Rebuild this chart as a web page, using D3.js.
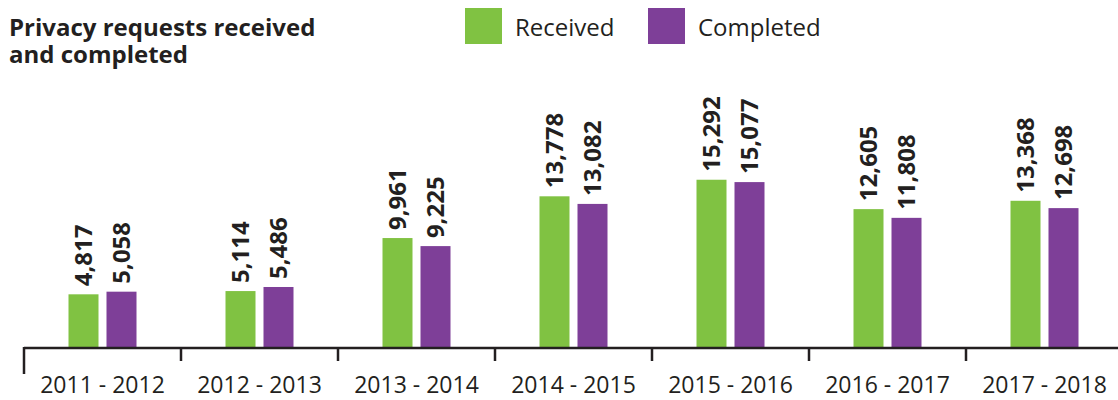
<!DOCTYPE html>
<html>

<head>
  <meta charset='utf-8'>
  <script type="text/javascript" src="https://cdn.jsdelivr.net/npm/d3@7"></script>
  <style type="text/css">
    body {
      margin: 0;
      background: #fff;
    }

    text {
      font-family: "Open Sans", sans-serif;
      fill: #231f20;
    }
  </style>
</head>

<body>
</body>

<script type="text/javascript">
  let w = 1118;
  let h = 400;

  // data
  let years = ["2011 - 2012", "2012 - 2013", "2013 - 2014", "2014 - 2015", "2015 - 2016", "2016 - 2017", "2017 - 2018"];
  let received = [4817, 5114, 9961, 13778, 15292, 12605, 13368];
  let completed = [5058, 5486, 9225, 13082, 15077, 11808, 12698];
  let seriesNames = ["Received", "Completed"];
  let colors = ["#80c242", "#7e3f98"];
  let titleLines = ["Privacy requests received", "and completed"];

  let svg = d3.select("body")
    .append("svg")
    .attr("width", w)
    .attr("height", h);

  // scales
  let x0 = d3.scaleBand()
    .domain(years)
    .range([24, 24 + 157 * years.length]);

  let x1 = d3.scaleBand()
    .domain(seriesNames)
    .range([44.5, 112.5])
    .paddingInner(0.2105);

  let y = d3.scaleLinear()
    .domain([0, 16000])
    .range([347, 172]);

  let color = d3.scaleOrdinal()
    .domain(seriesNames)
    .range(colors);

  // title
  svg.selectAll(".title")
    .data(titleLines)
    .enter()
    .append("text")
    .attr("class", "title")
    .attr("x", 9)
    .attr("y", (d, i) => 36 + i * 27)
    .style("font-weight", "bold")
    .style("font-size", "24px")
    .text(d => d);

  // legend
  let legendX = [465, 648];
  let legend = svg.selectAll(".legend")
    .data(seriesNames)
    .enter()
    .append("g")
    .attr("class", "legend")
    .attr("transform", (d, i) => "translate(" + legendX[i] + ",8)");
  legend.append("rect")
    .attr("width", 37)
    .attr("height", 36)
    .attr("fill", d => color(d));
  legend.append("text")
    .attr("x", 50)
    .attr("y", 28)
    .style("font-size", "24px")
    .text(d => d);

  // bars
  let rows = years.map((yr, i) => ({
    year: yr,
    values: [
      { key: "Received", value: received[i] },
      { key: "Completed", value: completed[i] }
    ]
  }));

  let groups = svg.selectAll(".group")
    .data(rows)
    .enter()
    .append("g")
    .attr("class", "group")
    .attr("transform", d => "translate(" + x0(d.year) + ",0)");

  groups.selectAll("rect")
    .data(d => d.values)
    .enter()
    .append("rect")
    .attr("x", d => x1(d.key))
    .attr("y", d => y(d.value))
    .attr("width", x1.bandwidth())
    .attr("height", d => y(0) - y(d.value))
    .attr("fill", d => color(d.key));

  groups.selectAll(".val")
    .data(d => d.values)
    .enter()
    .append("text")
    .attr("class", "val")
    .attr("transform", d => "translate(" + (x1(d.key) + x1.bandwidth() / 2) + "," + (y(d.value) - 8) + ") rotate(-90)")
    .attr("dy", "0.36em")
    .style("font-weight", "bold")
    .style("font-size", "24px")
    .text(d => d3.format(",")(d.value));

  // axis line + boundary ticks
  svg.append("line")
    .attr("x1", 24)
    .attr("x2", w)
    .attr("y1", 348)
    .attr("y2", 348)
    .attr("stroke", "#231f20")
    .attr("stroke-width", 2.5);

  svg.selectAll(".tick-b")
    .data(years)
    .enter()
    .append("line")
    .attr("class", "tick-b")
    .attr("x1", d => x0(d))
    .attr("x2", d => x0(d))
    .attr("y1", 347)
    .attr("y2", (d, i) => i == 0 ? 374 : 361)
    .attr("stroke", "#231f20")
    .attr("stroke-width", 2.5);

  // category labels
  svg.selectAll(".cat")
    .data(years)
    .enter()
    .append("text")
    .attr("class", "cat")
    .attr("x", d => x0(d) + x0.bandwidth() / 2)
    .attr("y", 393)
    .attr("text-anchor", "middle")
    .style("font-size", "23px")
    .text(d => d);
</script>

</html>
